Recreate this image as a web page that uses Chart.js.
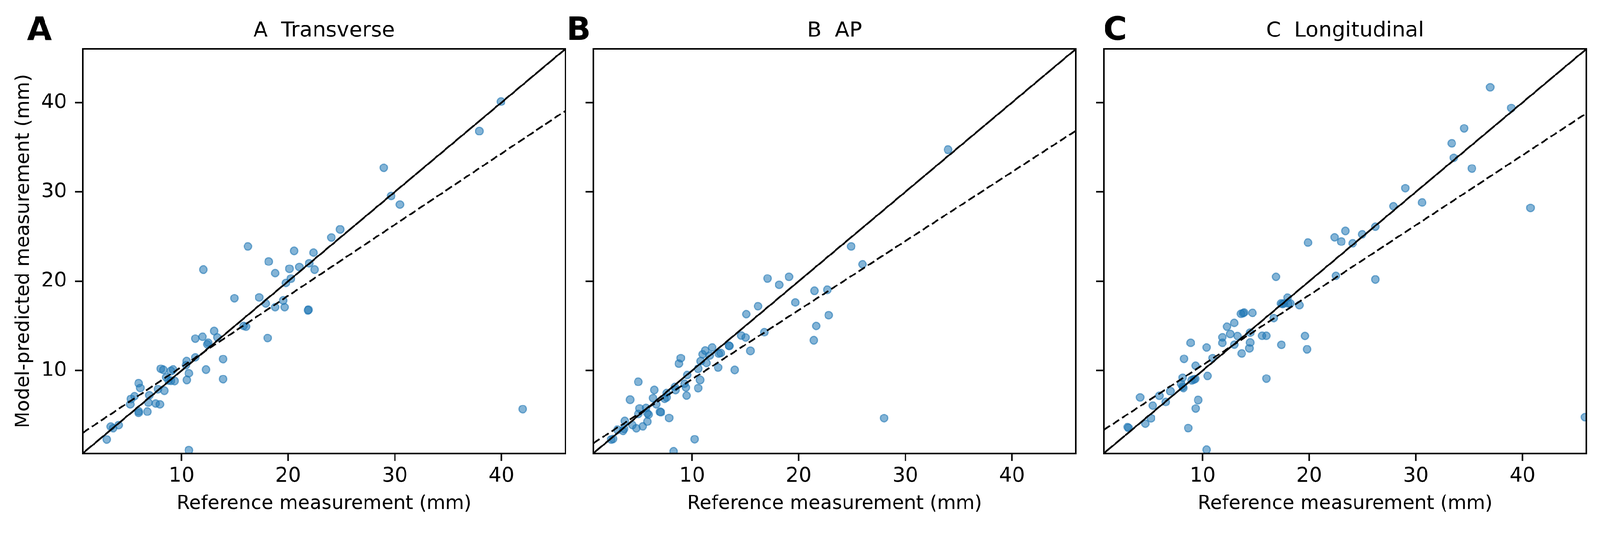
<!DOCTYPE html>
<html>
<head>
<meta charset="utf-8">
<script src="https://cdn.jsdelivr.net/npm/chart.js@4.4.0/dist/chart.umd.min.js"></script>
<style>
html,body{margin:0;padding:0;background:#fff;overflow:hidden;}
#wrap{position:absolute;left:0;top:0;width:4256px;height:1394px;overflow:hidden;background:#fff;transform-origin:0 0;}
canvas{position:absolute;top:0;}
</style>
</head>
<body>
<div id="wrap">
<canvas id="cA" width="1530" height="1394" style="left:0px"></canvas>
<canvas id="cB" width="1380" height="1394" style="left:1500px"></canvas>
<canvas id="cC" width="1376" height="1394" style="left:2880px"></canvas>
</div>
<script>
// ---------------- DATA ----------------
const panelTitles = ["A  Transverse", "B  AP", "C  Longitudinal"];
const panelLetters = ["A", "B", "C"];
const xAxisLabel = "Reference measurement (mm)";
const yAxisLabel = "Model-predicted measurement (mm)";
const tickValues = [10, 20, 30, 40];
const axisLimits = [0.73, 46.0];

// Panel A – Transverse
const transverseRef = [39.96,37.93,28.97,29.66,30.48,24.87,24.05,16.22,20.56,22.38,18.17,21.97,12.05,20.12,21.05,22.48,18.78,20.26,19.78,14.96,17.28,17.9,19.54,18.78,19.67,21.9,21.85,15.82,16.05,18.07,13.06,11.29,11.97,13.35,12.5,12.4,11.29,13.9,10.47,10.41,12.29,10.68,10.49,13.9,8.06,8.3,9.21,9.0,8.77,9.0,9.35,8.55,5.97,6.13,7.78,8.39,6.98,5.59,5.26,5.19,6.89,7.57,7.97,5.97,5.97,6.79,42.0,3.36,3.59,4.1,2.98,10.68];
const transversePred = [40.1,36.8,32.7,29.55,28.58,25.8,24.9,23.9,23.4,23.2,22.2,22.0,21.3,21.4,21.6,21.3,20.9,20.3,19.8,18.1,18.2,17.5,17.85,17.1,17.1,16.8,16.75,15.0,14.92,13.65,14.43,13.58,13.79,13.72,13.11,12.94,11.49,11.29,11.06,10.61,10.11,9.69,8.95,9.05,10.21,10.08,10.11,9.95,8.91,8.87,8.84,9.25,8.58,8.06,7.92,7.75,7.24,7.14,6.83,6.22,6.41,6.31,6.22,5.44,5.26,5.4,5.69,3.74,3.56,3.89,2.29,1.08];

// Panel B – AP
const apRef = [34.0,24.92,25.99,17.07,19.09,18.17,21.48,22.68,19.68,16.18,15.08,22.81,21.64,16.78,21.42,14.61,15.02,15.47,28.01,2.42,2.6,3.0,3.53,3.63,3.69,4.19,4.95,4.41,4.77,5.38,5.08,4.95,5.68,5.8,5.92,5.8,6.34,6.46,6.64,7.0,7.07,7.85,7.43,7.61,7.61,8.27,8.39,8.45,8.76,8.94,9.3,9.42,9.48,9.54,10.24,10.57,10.57,10.75,10.81,10.99,11.35,11.23,11.65,11.89,12.44,12.5,12.68,13.46,13.5,14.0];
const apPred = [34.72,23.9,21.89,20.31,20.5,19.6,18.93,19.04,17.62,17.21,16.31,16.2,15.0,14.29,13.39,13.92,13.71,12.21,4.68,2.29,2.36,3.37,3.27,3.48,4.36,6.74,8.74,3.9,3.55,3.76,5.77,5.14,5.84,5.21,5.07,4.29,6.92,7.83,6.22,5.38,5.33,4.7,6.85,6.99,7.48,0.96,8.18,7.83,10.77,11.4,8.53,8.11,7.2,9.51,2.32,10.21,8.04,8.95,11.05,11.82,10.84,12.24,11.68,12.59,10.35,11.89,11.96,12.8,12.75,10.07];

// Panel C – Longitudinal
const longRef = [36.97,38.95,34.53,33.37,33.56,35.26,29.01,27.9,30.59,40.75,26.2,24.97,23.39,22.38,23.01,24.08,19.88,16.88,22.5,26.2,19.6,19.79,45.85,2.96,3.05,4.14,4.63,5.16,5.33,5.95,6.54,6.98,8.13,8.0,8.13,8.2,8.26,8.65,8.88,8.98,9.18,9.31,9.34,9.58,9.35,10.37,10.37,10.46,10.94,11.86,11.86,12.28,12.59,12.97,12.98,13.27,13.67,13.6,13.8,13.9,14.46,14.46,14.39,14.68,15.58,15.98,15.98,16.68,17.39,17.36,17.49,17.63,17.96,18.02,18.22,19.08];
const longPred = [41.71,39.39,37.11,35.43,33.82,32.62,30.42,28.4,28.81,28.21,26.11,25.25,25.63,24.92,24.43,24.24,24.32,20.5,20.61,20.2,13.88,12.38,4.79,3.68,3.6,7.0,4.05,4.67,6.08,7.18,6.48,7.69,9.21,8.49,8.2,8.05,11.32,3.57,13.1,8.92,9.0,9.07,10.55,6.7,5.76,1.14,12.59,9.4,11.4,13.73,13.1,14.92,14.09,15.33,12.9,13.87,11.91,16.35,16.42,16.49,14.24,13.14,12.49,16.45,13.9,13.9,9.11,15.88,12.88,17.51,17.44,17.51,18.17,17.51,17.51,17.32];

// Fitted (dashed) regression lines: slope & intercept per panel
const fitSlopes = [0.796, 0.773, 0.783];
const fitIntercepts = [2.45, 1.30, 2.78];

// ---------------- RENDERING ----------------
// Fit the 4256x1394 design into the actual viewport (handles device scale factors)
const fitScale = Math.min(window.innerWidth / 4256, window.innerHeight / 1394) || 1;
document.getElementById('wrap').style.transform = 'scale(' + fitScale + ')';

Chart.defaults.font.family = '"DejaVu Sans", sans-serif';
Chart.defaults.color = '#000';

const panelDecor = {
  id: 'panelDecor',
  afterDatasetsDraw(chart, args, opts) {
    const {ctx, chartArea: a} = chart;
    ctx.save();
    ctx.strokeStyle = '#000';
    ctx.lineWidth = 4;
    ctx.strokeRect(a.left, a.top, a.right - a.left, a.bottom - a.top);
    ctx.restore();
  },
  afterDraw(chart, args, opts) {
    const {ctx, chartArea: a} = chart;
    ctx.save();
    ctx.fillStyle = '#000';
    ctx.textBaseline = 'alphabetic';
    ctx.font = '56px "DejaVu Sans"';
    ctx.textAlign = 'center';
    ctx.fillText(opts.title, (a.left + a.right) / 2, 97);
    ctx.font = 'bold 85px "DejaVu Sans"';
    ctx.textAlign = 'left';
    ctx.fillText(opts.letter, opts.letterX, 106);
    ctx.restore();
  }
};

function makePanel(canvasId, idx, refs, preds, geom) {
  const lo = axisLimits[0], hi = axisLimits[1];
  const pts = refs.map((x, i) => ({x: x, y: preds[i]}));
  const identity = [{x: lo, y: lo}, {x: hi, y: hi}];
  const s = fitSlopes[idx], b = fitIntercepts[idx];
  const fit = [{x: lo, y: b + s * lo}, {x: hi, y: b + s * hi}];
  const showY = idx === 0;
  new Chart(document.getElementById(canvasId), {
    type: 'scatter',
    data: {
      datasets: [
        {data: identity, showLine: true, borderColor: '#000', borderWidth: 4.5, pointRadius: 0, fill: false, clip: 0, order: 0},
        {data: fit, showLine: true, borderColor: '#000', borderWidth: 4.5, borderDash: [20, 9], pointRadius: 0, fill: false, clip: 0, order: 0},
        {data: pts, pointRadius: 10, pointBorderWidth: 3, backgroundColor: 'rgba(31,119,180,0.55)', borderColor: 'rgba(31,119,180,0.6)', pointHoverRadius: 10, clip: 0, order: 1}
      ]
    },
    options: {
      responsive: false,
      animation: false,
      devicePixelRatio: 1,
      events: [],
      layout: {padding: {left: 0, top: 130, right: geom.padRight, bottom: 0}},
      plugins: {
        legend: {display: false},
        tooltip: {enabled: false},
        panelDecor: {title: panelTitles[idx], letter: panelLetters[idx], letterX: geom.letterX}
      },
      scales: {
        x: {
          type: 'linear', min: lo, max: hi,
          afterBuildTicks: sc => { sc.ticks = tickValues.map(v => ({value: v})); },
          afterFit: sc => { sc.height = 189; },
          grid: {display: true, drawOnChartArea: false, drawTicks: true, tickLength: 20, tickWidth: 4, tickColor: '#000'},
          border: {display: false},
          ticks: {font: {size: 54}, color: '#000', padding: 9, maxRotation: 0, autoSkip: false},
          title: {display: true, text: xAxisLabel, font: {size: 51}, color: '#000', padding: {top: 0, bottom: 24}}
        },
        y: {
          type: 'linear', min: lo, max: hi,
          afterBuildTicks: sc => { sc.ticks = tickValues.map(v => ({value: v})); },
          afterFit: sc => { sc.width = geom.yWidth; },
          grid: {display: true, drawOnChartArea: false, drawTicks: true, tickLength: 20, tickWidth: 4, tickColor: '#000'},
          border: {display: false},
          ticks: {font: {size: 54}, color: '#000', padding: 22, autoSkip: false,
                  callback: v => showY ? String(v) : ''},
          title: {display: showY, text: yAxisLabel, font: {size: 51}, color: '#000', padding: {top: 33, bottom: 0}}
        }
      }
    },
    plugins: [panelDecor]
  });
}

makePanel('cA', 0, transverseRef, transversePred, {yWidth: 220, padRight: 26, letterX: 72});
makePanel('cB', 1, apRef, apPred, {yWidth: 78, padRight: 18, letterX: 7});
makePanel('cC', 2, longRef, longPred, {yWidth: 56, padRight: 36, letterX: 55});
</script>
</body>
</html>
